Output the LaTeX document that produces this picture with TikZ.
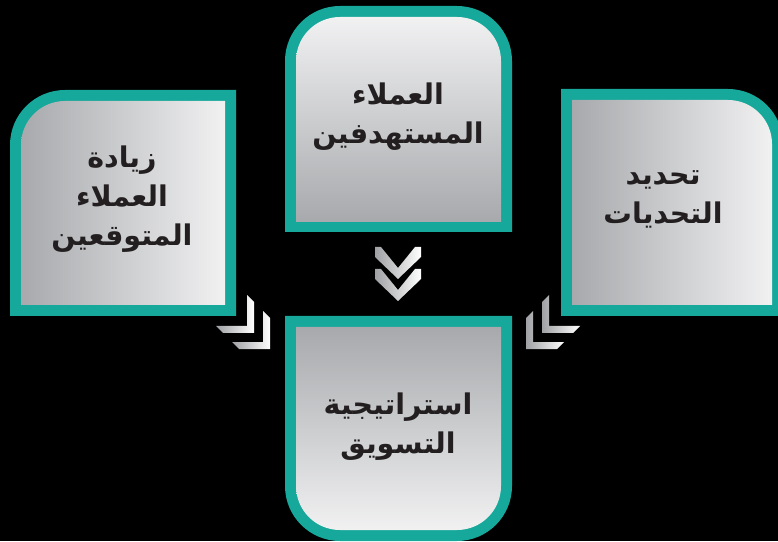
\documentclass[tikz,border=0pt]{standalone}
\usepackage{fontspec}
\newfontfamily\arabicfont[Script=Arabic]{DejaVu Sans}
\TeXXeTstate=1
\definecolor{tealb}{RGB}{22,168,154}
\definecolor{boxgrey}{RGB}{167,169,172}
\definecolor{boxlight}{RGB}{241,241,242}
\definecolor{chevgrey}{RGB}{160,161,164}
\definecolor{txtcol}{RGB}{35,31,32}
\tikzset{
  txt/.style={font=\arabicfont\bfseries\fontsize{28.5}{39}\selectfont, text=txtcol, align=center, inner sep=0pt},
  border/.style={fill=tealb},
  chev/.style={left color=chevgrey, right color=white},
}
\begin{document}
\begin{tikzpicture}[x=1pt,y=1pt]
\useasboundingbox (0,0) rectangle (778,541);
\fill[black] (0,0) rectangle (778,541);
\clip (0,0) rectangle (778,541);
% top box
\fill[border] (285,309) -- (285,480) arc[start angle=180,end angle=90,radius=55] -- (457,535) arc[start angle=90,end angle=0,radius=55] -- (512,309) -- cycle;
\shade[top color=boxlight,bottom color=boxgrey] (296,319) -- (296,480) arc[start angle=180,end angle=90,radius=44] -- (457,524) arc[start angle=90,end angle=0,radius=44] -- (501,319) -- cycle;
% left box
\fill[border] (10,225) -- (10,396) arc[start angle=180,end angle=90,radius=55] -- (236,451) -- (236,225) -- cycle;
\shade[left color=boxgrey,right color=boxlight] (21,236) -- (21,396) arc[start angle=180,end angle=90,radius=44] -- (225,440) -- (225,236) -- cycle;
% right box
\fill[border] (561,225) -- (561,452) -- (728,452) arc[start angle=90,end angle=0,radius=55] -- (783,225) -- cycle;
\shade[left color=boxgrey,right color=boxlight] (572,236) -- (572,441) -- (728,441) arc[start angle=90,end angle=0,radius=44] -- (772,236) -- cycle;
% bottom box
\fill[border] (285,225) -- (285,55) arc[start angle=180,end angle=270,radius=55] -- (457,0) arc[start angle=270,end angle=360,radius=55] -- (512,225) -- cycle;
\shade[top color=boxgrey,bottom color=boxlight] (296,214) -- (296,55) arc[start angle=180,end angle=270,radius=44] -- (457,11) arc[start angle=270,end angle=360,radius=44] -- (501,214) -- cycle;
% corner chevrons
\shade[chev] (247,246) -- (254,239) -- (254,208) -- (223,208) -- (216,215) -- (247,215) -- cycle;
\shade[chev] (263,230) -- (270,223) -- (270,192) -- (239,192) -- (232,199) -- (263,199) -- cycle;
\shade[chev] (549,246) -- (542,239) -- (542,208) -- (573,208) -- (580,215) -- (549,215) -- cycle;
\shade[chev] (533,230) -- (526,223) -- (526,192) -- (557,192) -- (564,199) -- (533,199) -- cycle;
% down chevrons
\shade[chev] (375,294) -- (381,294) -- (398,273) -- (415,294) -- (421,294) -- (421,284) -- (398,262) -- (375,284) -- cycle;
\shade[chev] (375,272) -- (381,272) -- (398,251) -- (415,272) -- (421,272) -- (421,262) -- (398,240) -- (375,262) -- cycle;
% texts
\node[txt] (tTop) at (398,424) {\beginR العملاء\endR\\\beginR المستهدفين\endR};
\node[txt] (tLeft) at (122,342) {\beginR زيادة\endR\\\beginR العملاء\endR\\\beginR المتوقعين\endR};
\node[txt] (tRight) at (663,342) {\beginR تحديد\endR\\\beginR التحديات\endR};
\node[txt] (tBottom) at (398,114) {\beginR استراتيجية\endR\\\beginR التسويق\endR};
\end{tikzpicture}
\end{document}
